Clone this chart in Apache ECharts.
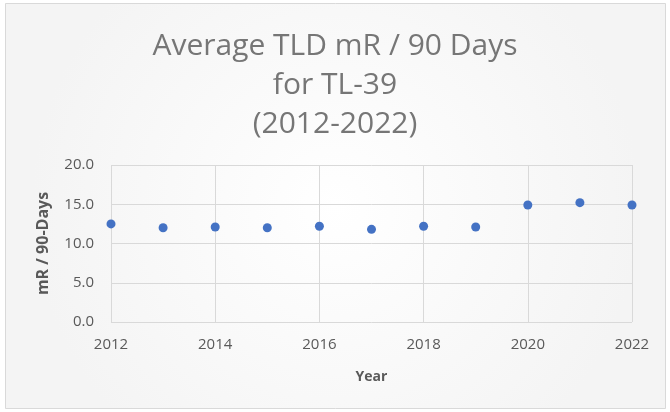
<!DOCTYPE html>
<html>
<head>
<meta charset="utf-8">
<script src="https://cdn.jsdelivr.net/npm/echarts@6/dist/echarts.min.js"></script>
<style>
  html, body { margin: 0; padding: 0; background: #ffffff; }
  #chart { position: absolute; left: 0; top: 0; width: 670px; height: 412px; }
</style>
</head>
<body>
<div id="chart"></div>
<script>
// Average TLD readings per 90-day period, station TL-39
const years = [2012, 2013, 2014, 2015, 2016, 2017, 2018, 2019, 2020, 2021, 2022];
const doseValues = [12.5, 12.0, 12.1, 12.0, 12.2, 11.8, 12.2, 12.1, 14.9, 15.2, 14.9];
const titleLines = ['Average TLD mR / 90 Days', 'for TL-39', '(2012-2022)'];

const chart = echarts.init(document.getElementById('chart'), null, { renderer: 'canvas' });

chart.setOption({
  backgroundColor: '#ffffff',
  animation: false,
  graphic: [{
    type: 'rect',
    z: -10,
    silent: true,
    shape: { x: 5.5, y: 3.5, width: 660, height: 405 },
    style: {
      fill: {
        type: 'radial', x: 0.5, y: 0.5, r: 0.75,
        colorStops: [
          { offset: 0, color: '#ffffff' },
          { offset: 1, color: '#f4f4f4' }
        ]
      },
      stroke: '#d9d9d9',
      lineWidth: 1
    }
  }],
  title: {
    text: titleLines.join('\n'),
    left: 'center',
    top: 22,
    textStyle: {
      fontFamily: 'Open Sans',
      fontWeight: 'normal',
      fontSize: 30,
      lineHeight: 39,
      color: '#767676'
    }
  },
  grid: { left: 111, right: 38, top: 165, bottom: 90 },
  xAxis: {
    type: 'value',
    min: 2012,
    max: 2022,
    interval: 2,
    name: 'Year',
    nameLocation: 'middle',
    nameGap: 48,
    nameTextStyle: { fontFamily: 'Open Sans', fontWeight: 'bold', fontSize: 14, color: '#595959' },
    axisLine: { show: false },
    axisTick: { show: false },
    axisLabel: {
      fontFamily: 'Open Sans', fontSize: 15, color: '#595959', margin: 15,
      formatter: v => String(v)
    },
    splitLine: { show: true, lineStyle: { color: '#d9d9d9', width: 1 } }
  },
  yAxis: {
    type: 'value',
    min: 0,
    max: 20,
    interval: 5,
    name: 'mR / 90-Days',
    nameLocation: 'middle',
    nameGap: 60,
    nameTextStyle: { fontFamily: 'Open Sans', fontWeight: 'bold', fontSize: 16, color: '#595959' },
    axisLine: { show: false },
    axisTick: { show: false },
    axisLabel: {
      fontFamily: 'Open Sans', fontSize: 15, color: '#595959', margin: 17,
      formatter: v => v.toFixed(1)
    },
    splitLine: { show: true, lineStyle: { color: '#d9d9d9', width: 1 } }
  },
  series: [{
    type: 'scatter',
    symbol: 'circle',
    symbolSize: 9,
    itemStyle: { color: '#4472C4', opacity: 1 },
    data: years.map((y, i) => [y, doseValues[i]])
  }]
});
</script>
</body>
</html>
